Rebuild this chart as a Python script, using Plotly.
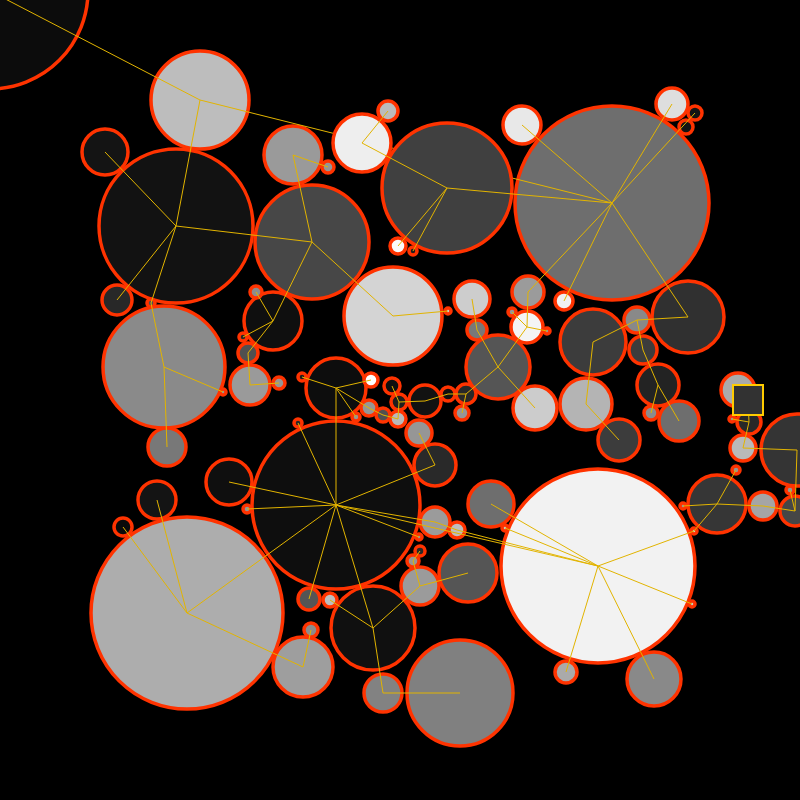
import plotly.graph_objects as go

# nodes: id, centre (pixel space), radius, fill grey level
node_id = ["n0", "n1", "n2", "n3", "n4", "n5", "n6", "n7", "n8", "n9",
           "n10", "n11", "n12", "n13", "n14", "n15", "n16", "n17", "n18", "n19",
           "n20", "n21", "n22", "n23", "a", "b", "c", "d", "e", "f",
           "g", "h", "i", "n26", "n27", "t1", "t2", "t3", "n29", "n30",
           "t4", "n31", "n32", "n33", "n34", "t5", "n82", "n81", "n80", "n84",
           "n75", "n76", "n77", "n78", "n79", "n73", "n74", "n71", "n70", "n72",
           "n67", "t6", "n68", "t7", "n69", "n61", "n62", "n63", "n64", "n65",
           "n66", "n60", "t8", "t9", "t10", "n28", "n35", "n36", "n37", "t11",
           "t12", "t13", "n38", "t14", "t15", "n40", "n41", "n42", "n56", "n43",
           "n54", "n55", "n53", "n44", "n45", "n46", "n47", "n48", "n49", "n50",
           "n51", "n52", "sq"]
node_x = [-10, 200, 105, 176, 293, 328, 312, 362, 388, 447,
          398, 413, 522, 612, 672, 695, 686, 564, 528, 527,
          498, 472, 477, 535, 392, 399, 369, 383, 398, 425,
          448, 466, 462, 336, 371, 302, 356, 298, 336, 229,
          247, 435, 419, 435, 457, 419, 420, 413, 420, 468,
          309, 330, 373, 383, 460, 303, 311, 187, 157, 123,
          117, 151, 164, 223, 167, 273, 256, 243, 248, 250,
          279, 393, 448, 512, 547, 491, 598, 566, 654, 692,
          505, 694, 717, 683, 736, 763, 795, 797, 790, 743,
          749, 732, 738, 593, 586, 619, 637, 643, 658, 651,
          679, 688, 748]
node_y = [-9, 100, 152, 226, 155, 167, 242, 143, 111, 188,
          246, 251, 125, 203, 104, 113, 127, 301, 292, 327,
          367, 299, 330, 408, 386, 402, 408, 415, 419, 401,
          394, 394, 413, 388, 380, 377, 417, 423, 505, 482,
          509, 465, 433, 522, 530, 537, 551, 561, 586, 573,
          599, 600, 628, 693, 693, 667, 630, 613, 500, 527,
          300, 303, 367, 392, 447, 321, 292, 337, 353, 385,
          383, 316, 311, 312, 331, 504, 566, 672, 679, 604,
          528, 531, 504, 506, 470, 506, 511, 450, 490, 448,
          422, 419, 390, 342, 404, 440, 320, 350, 385, 413,
          421, 317, 400]
node_r = [98, 49, 23, 77, 29, 6, 57, 29, 10, 65,
          8, 4, 19, 97, 16, 7, 7, 9, 16, 16,
          32, 18, 10, 22, 8, 8, 8, 7, 8, 16,
          7, 10, 7, 30, 7, 4, 4, 4, 84, 23,
          4, 21, 13, 15, 8, 3, 5, 6, 19, 29,
          11, 7, 42, 19, 53, 30, 7, 96, 19, 9,
          15, 4, 61, 3, 19, 29, 6, 4, 10, 20,
          6, 49, 3, 4, 3, 23, 97, 11, 27, 3,
          3, 3, 29, 3, 4, 14, 15, 36, 4, 13,
          12, 3, 17, 33, 26, 21, 13, 14, 21, 7,
          20, 36, 15]
node_gray = [12, 189, 20, 18, 154, 150, 71, 238, 187, 64,
             250, 30, 232, 110, 222, 20, 20, 240, 155, 244,
             85, 205, 120, 204, 15, 30, 150, 80, 185, 18,
             15, 40, 150, 13, 255, 30, 150, 40, 14, 15,
             150, 41, 150, 155, 190, 150, 40, 150, 155, 85,
             85, 190, 16, 130, 128, 158, 140, 173, 20, 10,
             40, 80, 138, 150, 120, 15, 140, 40, 80, 154,
             150, 212, 200, 150, 150, 110, 242, 170, 137, 200,
             200, 200, 54, 150, 150, 165, 70, 52, 150, 185,
             40, 150, 170, 60, 180, 60, 137, 60, 35, 140,
             110, 48, 50]

edges = [("n0", "n1"), ("n1", "n3"), ("n1", "n13"), ("n3", "n2"), ("n3", "n6"),
         ("n3", "n67"), ("n3", "t6"), ("t6", "n68"), ("n68", "t7"), ("n68", "n69"),
         ("n6", "n4"), ("n4", "n5"), ("n6", "n60"), ("n6", "n61"), ("n60", "t8"),
         ("n61", "n62"), ("n61", "n63"), ("n61", "n64"), ("n64", "n65"), ("n65", "n66"),
         ("n9", "n7"), ("n7", "n8"), ("n9", "n10"), ("n9", "n11"), ("n9", "n13"),
         ("n13", "n12"), ("n13", "n14"), ("n13", "n15"), ("n13", "n17"), ("n13", "n18"),
         ("n13", "n52"), ("n18", "n19"), ("n19", "t9"), ("n19", "t10"), ("n19", "n20"),
         ("n20", "n22"), ("n22", "n21"), ("n20", "n23"), ("n20", "h"), ("h", "g"),
         ("h", "i"), ("g", "f"), ("f", "b"), ("b", "a"), ("b", "e"),
         ("e", "d"), ("d", "c"), ("c", "n26"), ("n26", "n27"), ("n26", "t1"),
         ("n26", "t2"), ("n26", "n29"), ("n29", "t3"), ("n29", "n30"), ("n29", "t4"),
         ("n29", "n31"), ("n31", "n32"), ("n29", "n33"), ("n33", "n34"), ("n34", "n35"),
         ("n29", "t5"), ("n29", "n35"), ("n29", "n75"), ("n29", "n77"), ("n29", "n71"),
         ("n77", "n76"), ("n77", "n80"), ("n80", "n84"), ("n80", "n81"), ("n81", "n82"),
         ("n77", "n78"), ("n78", "n79"), ("n71", "n70"), ("n71", "n72"), ("n71", "n73"),
         ("n73", "n74"), ("n28", "n35"), ("t12", "n35"), ("n35", "n36"), ("n35", "n37"),
         ("n35", "t11"), ("n35", "t13"), ("t13", "n38"), ("n38", "t14"), ("n38", "t15"),
         ("n38", "n40"), ("n40", "n41"), ("n41", "n56"), ("n41", "n42"), ("n42", "n43"),
         ("n43", "n54"), ("n54", "n55"), ("n54", "sq"), ("n52", "n47"), ("n47", "n44"),
         ("n44", "n45"), ("n45", "n46"), ("n47", "n48"), ("n48", "n49"), ("n49", "n51"),
         ("n49", "n50")]

# nodes drawn above the first layer of links
top_nodes = ["n7", "n9"]
selected = "sq"

STROKE = "#ff3300"
LINK = "#e2b400"

pos = {n: (x, y) for n, x, y in zip(node_id, node_x, node_y)}


def node_trace(ids, symbol="circle", line_color=STROKE, line_width=3.5):
    idx = [node_id.index(n) for n in ids]
    return go.Scatter(
        x=[node_x[k] for k in idx], y=[node_y[k] for k in idx], mode="markers",
        marker=dict(symbol=symbol, size=[2 * node_r[k] for k in idx], opacity=1,
                    color=[f"rgb({node_gray[k]},{node_gray[k]},{node_gray[k]})" for k in idx],
                    line=dict(color=line_color, width=line_width)),
        hoverinfo="skip")


def link_trace(pairs):
    xs, ys = [], []
    for s, t in pairs:
        xs += [pos[s][0], pos[t][0], None]
        ys += [pos[s][1], pos[t][1], None]
    return go.Scatter(x=xs, y=ys, mode="lines", line=dict(color=LINK, width=1),
                      hoverinfo="skip")


base = [n for n in node_id if n not in top_nodes and n != selected]
low_links = [e for e in edges if e[0] not in top_nodes and e[1] not in top_nodes]
high_links = [e for e in edges if e not in low_links]

fig = go.Figure()
fig.add_trace(node_trace(base))
fig.add_trace(link_trace(low_links))
fig.add_trace(node_trace(top_nodes))
fig.add_trace(link_trace(high_links))
fig.add_trace(node_trace([selected], symbol="square", line_color="#ffcc00", line_width=2))

fig.update_layout(width=800, height=800, margin=dict(l=0, r=0, t=0, b=0),
                  paper_bgcolor="black", plot_bgcolor="black", showlegend=False,
                  xaxis=dict(range=[0, 800], visible=False, fixedrange=True),
                  yaxis=dict(range=[800, 0], visible=False, fixedrange=True))

fig.write_html("out.html", config={"displayModeBar": False},
               post_script="document.body.style.margin = '0px';")
